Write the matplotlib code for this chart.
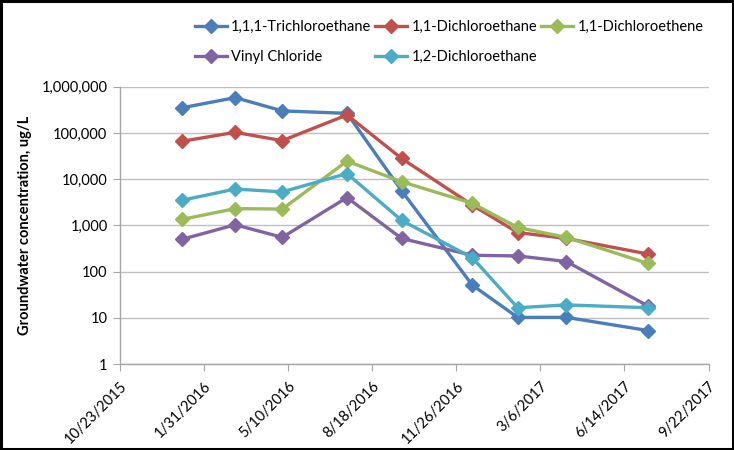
import matplotlib
matplotlib.use('Agg')
import matplotlib.pyplot as plt
from matplotlib.ticker import FixedLocator, FuncFormatter, NullLocator
from matplotlib.patches import Rectangle
import datetime as dt

plt.rcParams['font.family'] = ['Lato', 'DejaVu Sans']

# sample dates
dates = ['2016-01-05', '2016-03-08', '2016-05-03', '2016-07-19', '2016-09-22',
         '2016-12-15', '2017-02-07', '2017-04-06', '2017-07-12']

tca_111 = [350000, 580000, 300000, 265000, 5600, 51, 10.2, 10.2, 5.3]
dca_11 = [66000, 103000, 68000, 245000, 28000, 2750, 700, 520, 240]
dce_11 = [1350, 2300, 2250, 24500, 8800, 3000, 900, 550, 150]
vinyl = [500, 1030, 550, 4000, 520, 225, 218, 165, 18]
dca_12 = [3500, 6100, 5300, 13200, 1280, 200, 16.5, 19, 16.5]

series = [
    ('1,1,1-Trichloroethane', tca_111, '#4A7EBB'),
    ('1,1-Dichloroethane', dca_11, '#C0504D'),
    ('1,1-Dichloroethene', dce_11, '#9BBB59'),
    ('Vinyl Chloride', vinyl, '#8064A2'),
    ('1,2-Dichloroethane', dca_12, '#4BACC6'),
]

x = [dt.datetime.strptime(d, '%Y-%m-%d') for d in dates]

fig = plt.figure(figsize=(7.34, 4.5), dpi=100)
ax = fig.add_axes([120 / 734, 1 - 364 / 450, 588.5 / 734, 277.3 / 450])

handles = {}
for name, vals, col in series:
    h, = ax.plot(x, vals, color=col, lw=2.4, marker='D', ms=7.5, mec=col, mfc=col,
                 label=name)
    handles[name] = h

ax.set_yscale('log')
ax.set_ylim(1, 1e6)
ax.yaxis.set_major_locator(FixedLocator([10 ** i for i in range(7)]))
ax.yaxis.set_minor_locator(NullLocator())
ax.yaxis.set_major_formatter(FuncFormatter(lambda v, p: f'{v:,.0f}'))
ax.grid(axis='y', color='#BFBFBF', lw=1)
ax.set_axisbelow(True)

start = dt.datetime(2015, 10, 23)
end = dt.datetime(2017, 9, 22)
ax.set_xlim(start, end)
xt = [start + dt.timedelta(days=100 * i) for i in range(8)]
ax.set_xticks(xt)
ax.set_xticklabels([f'{d.month}/{d.day}/{d.year}' for d in xt], rotation=45,
                   ha='right', rotation_mode='anchor')

for s in ['top', 'right']:
    ax.spines[s].set_visible(False)
for s in ['left', 'bottom']:
    ax.spines[s].set_color('#A6A6A6')
    ax.spines[s].set_linewidth(1)
ax.tick_params(axis='x', length=5, color='#A6A6A6', labelsize=10.5, pad=6)
ax.tick_params(axis='y', length=5, color='#A6A6A6', labelsize=10.5, pad=4)

ax.set_ylabel('Groundwater concentration, ug/L', fontsize=10.5, fontweight='bold',
              labelpad=7)

order = ['1,1,1-Trichloroethane', 'Vinyl Chloride', '1,1-Dichloroethane',
         '1,2-Dichloroethane', '1,1-Dichloroethene']
fig.legend([handles[n] for n in order], order, ncol=3, frameon=False,
           loc='center', bbox_to_anchor=(449 / 734, 1 - 42 / 450),
           fontsize=10.5, handlelength=2.2, handletextpad=0.3,
           columnspacing=0.25, labelspacing=1.1)

fig.patches.append(Rectangle((0.002, 0.003), 0.996, 0.994, transform=fig.transFigure,
                             fill=False, ec='black', lw=2.2))

fig.savefig('out.png', dpi=100)
